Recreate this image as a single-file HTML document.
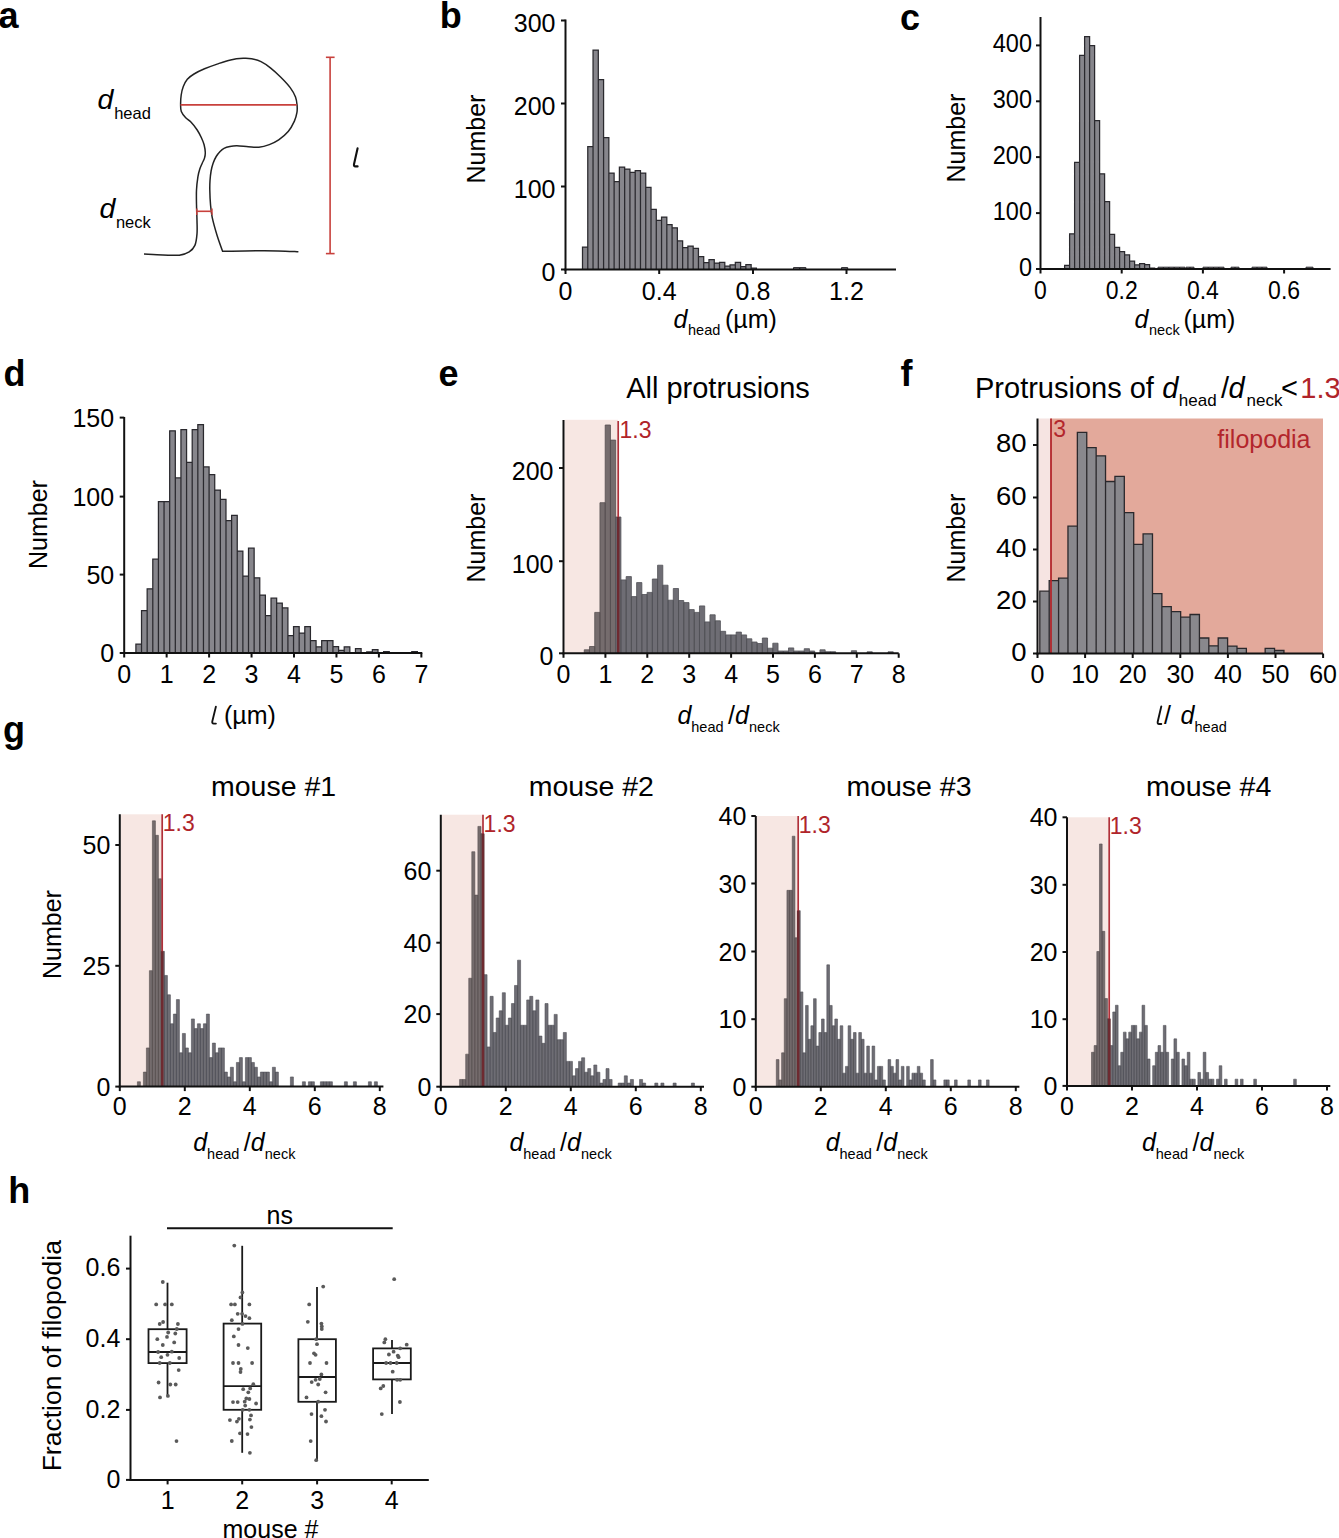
<!DOCTYPE html>
<html><head><meta charset="utf-8"><title>Figure</title>
<style>html,body{margin:0;padding:0;background:#fff;}body{width:1339px;height:1538px;overflow:hidden;}svg{display:block;}</style>
</head><body>
<svg width="1339" height="1538" viewBox="0 0 1339 1538" font-family='"Liberation Sans", sans-serif'>
<rect width="1339" height="1538" fill="#fff"/>
<text x="-1.5" y="28" font-size="36" font-weight="bold">a</text>
<text x="439.7" y="28" font-size="36" font-weight="bold">b</text>
<text x="900" y="29.6" font-size="36" font-weight="bold">c</text>
<text x="3.6" y="386" font-size="36" font-weight="bold">d</text>
<text x="438.6" y="386" font-size="36" font-weight="bold">e</text>
<text x="900.5" y="386" font-size="36" font-weight="bold">f</text>
<text x="3" y="741.5" font-size="36" font-weight="bold">g</text>
<text x="8.3" y="1203.3" font-size="36" font-weight="bold">h</text>
<path d="M144 254.1C147.15 254.23 157.02 254.72 162.9 254.9C168.78 255.08 174.92 255.7 179.3 255.2C183.68 254.7 186.6 253.53 189.2 251.9C191.8 250.27 193.6 248.4 194.9 245.4C196.2 242.4 196.65 238.02 197 233.9C197.35 229.78 197.08 225.63 197 220.7C196.92 215.77 196.58 209.42 196.5 204.3C196.42 199.18 196.27 194.58 196.5 190C196.73 185.42 197.35 180.3 197.9 176.8C198.45 173.3 199.08 171.27 199.8 169C200.52 166.73 201.42 165.02 202.2 163.2C202.98 161.38 203.98 159.87 204.5 158.1C205.02 156.33 205.37 154.82 205.3 152.6C205.23 150.38 204.75 147.27 204.1 144.8C203.45 142.33 202.55 140.27 201.4 137.8C200.25 135.33 198.95 132.62 197.2 130C195.45 127.38 192.85 124.18 190.9 122.1C188.95 120.02 187.1 119.27 185.5 117.5C183.9 115.73 182.12 113.68 181.3 111.5C180.48 109.32 180.62 107.15 180.6 104.4C180.58 101.65 180.75 97.97 181.2 95C181.65 92.03 182.28 89.22 183.3 86.6C184.32 83.98 185.52 81.4 187.3 79.3C189.08 77.2 191.13 75.75 194 74C196.87 72.25 200.65 70.45 204.5 68.8C208.35 67.15 212.75 65.58 217.1 64.1C221.45 62.62 226.25 60.87 230.6 59.9C234.95 58.93 239.7 58.5 243.2 58.3C246.7 58.1 248.63 58.15 251.6 58.7C254.57 59.25 257.87 60.08 261 61.6C264.13 63.12 267.1 65.2 270.4 67.8C273.7 70.4 277.5 73.9 280.8 77.2C284.1 80.5 287.75 84.3 290.2 87.6C292.65 90.9 294.35 94.03 295.5 97C296.65 99.97 296.87 102.78 297.1 105.4C297.33 108.02 297.35 110.08 296.9 112.7C296.45 115.32 295.85 117.95 294.4 121.1C292.95 124.25 290.82 128.47 288.2 131.6C285.58 134.73 281.85 137.73 278.7 139.9C275.55 142.07 272.6 143.38 269.3 144.6C266 145.82 262.38 146.85 258.9 147.2C255.42 147.55 252.07 146.95 248.4 146.7C244.73 146.45 239.98 145.75 236.9 145.7C233.82 145.65 232.05 145.97 229.9 146.4C227.75 146.83 225.63 147.45 224 148.3C222.37 149.15 221.4 150.13 220.1 151.5C218.8 152.87 217.37 154.55 216.2 156.5C215.03 158.45 213.95 160.78 213.1 163.2C212.25 165.62 211.62 168.08 211.1 171C210.58 173.92 210.22 177.53 210 180.7C209.78 183.87 209.72 186.07 209.8 190C209.88 193.93 210.1 199.73 210.5 204.3C210.9 208.87 211.1 212.2 212.2 217.4C213.3 222.6 215.37 229.85 217.1 235.5C218.83 241.15 221.68 248.67 222.6 251.3C226.33 251.23 235.78 250.97 245 250.9C254.22 250.83 269 250.75 277.9 250.9C286.8 251.05 294.98 251.65 298.4 251.8" fill="none" stroke="#222" stroke-width="1.5" stroke-linejoin="miter"/>
<line x1="180.5" y1="104.9" x2="296.8" y2="104.9" stroke="#c8403c" stroke-width="1.6"/>
<line x1="196.8" y1="211.3" x2="212" y2="211.3" stroke="#c8403c" stroke-width="1.6"/>
<line x1="196.8" y1="208.4" x2="196.8" y2="215" stroke="#c8403c" stroke-width="1.4"/>
<line x1="212" y1="208.4" x2="212" y2="215" stroke="#c8403c" stroke-width="1.4"/>
<line x1="330.1" y1="57.3" x2="330.1" y2="253.6" stroke="#c8403c" stroke-width="1.6"/>
<line x1="325.9" y1="57.3" x2="334.6" y2="57.3" stroke="#c8403c" stroke-width="1.6"/>
<line x1="325.9" y1="253.6" x2="334.6" y2="253.6" stroke="#c8403c" stroke-width="1.6"/>
<text x="97.5" y="109.1" font-size="28.5" font-style="italic">d</text>
<text x="114.2" y="118.7" font-size="16.5">head</text>
<text x="99.5" y="218.3" font-size="28.5" font-style="italic">d</text>
<text x="115.9" y="227.7" font-size="16.5">neck</text>
<path d="M357.6 148.2L354 164.2Q353.6 166.4 355.4 166.4L357.6 166.4" fill="none" stroke="#111" stroke-width="2.1" stroke-linecap="round" stroke-linejoin="round"/>
<path d="M582.5 269.5V247H587.77V269.5M587.77 269.5V146.6H593.04V269.5M593.04 269.5V50H598.31V269.5M598.31 269.5V79.7H603.58V269.5M603.58 269.5V137.6H608.85V269.5M608.85 269.5V173H614.12V269.5M614.12 269.5V181.7H619.39V269.5M619.39 269.5V167H624.66V269.5M624.66 269.5V169H629.93V269.5M629.93 269.5V172.4H635.2V269.5M635.2 269.5V170.6H640.47V269.5M640.47 269.5V173H645.74V269.5M645.74 269.5V187.3H651.01V269.5M651.01 269.5V209.3H656.28V269.5M656.28 269.5V220.3H661.55V269.5M661.55 269.5V217.1H666.82V269.5M666.82 269.5V224.6H672.09V269.5M672.09 269.5V227.8H677.36V269.5M677.36 269.5V240.9H682.63V269.5M682.63 269.5V247.5H687.9V269.5M687.9 269.5V246.1H693.17V269.5M693.17 269.5V248.4H698.44V269.5M698.44 269.5V256.6H703.71V269.5M703.71 269.5V262.7H708.98V269.5M708.98 269.5V259.7H714.25V269.5M714.25 269.5V263.1H719.52V269.5M719.52 269.5V262.4H724.79V269.5M724.79 269.5V266H730.06V269.5M730.06 269.5V264.9H735.33V269.5M735.33 269.5V262.4H740.6V269.5M740.6 269.5V266.7H745.87V269.5M745.87 269.5V264.5H751.14V269.5M751.14 269.5V268.1H756.41V269.5" fill="#87868c" stroke="#2a292e" stroke-width="1.25"/>
<path d="M793.5 269.5V267.6H799.7V269.5M799.7 269.5V267.6H805.9V269.5" fill="#87868c" stroke="#2a292e" stroke-width="1"/>
<path d="M841.5 269.5V267.6H847.7V269.5" fill="#87868c" stroke="#2a292e" stroke-width="1"/>
<line x1="565.5" y1="19.5" x2="565.5" y2="270.5" stroke="#111" stroke-width="2"/>
<line x1="561" y1="269.5" x2="565.5" y2="269.5" stroke="#111" stroke-width="2"/>
<text x="555.5" y="280.8" font-size="25" text-anchor="end">0</text>
<line x1="561" y1="186.5" x2="565.5" y2="186.5" stroke="#111" stroke-width="2"/>
<text x="555.5" y="197.8" font-size="25" text-anchor="end">100</text>
<line x1="561" y1="103.5" x2="565.5" y2="103.5" stroke="#111" stroke-width="2"/>
<text x="555.5" y="114.8" font-size="25" text-anchor="end">200</text>
<line x1="561" y1="20.5" x2="565.5" y2="20.5" stroke="#111" stroke-width="2"/>
<text x="555.5" y="31.8" font-size="25" text-anchor="end">300</text>
<line x1="564.5" y1="269.5" x2="896" y2="269.5" stroke="#111" stroke-width="2"/>
<line x1="565.5" y1="269.5" x2="565.5" y2="274" stroke="#111" stroke-width="2"/>
<text x="565.5" y="299.6" font-size="25" text-anchor="middle">0</text>
<line x1="659.2" y1="269.5" x2="659.2" y2="274" stroke="#111" stroke-width="2"/>
<text x="659.2" y="299.6" font-size="25" text-anchor="middle">0.4</text>
<line x1="753" y1="269.5" x2="753" y2="274" stroke="#111" stroke-width="2"/>
<text x="753" y="299.6" font-size="25" text-anchor="middle">0.8</text>
<line x1="846.5" y1="269.5" x2="846.5" y2="274" stroke="#111" stroke-width="2"/>
<text x="846.5" y="299.6" font-size="25" text-anchor="middle">1.2</text>
<text x="484.5" y="139" font-size="25" text-anchor="middle" transform="rotate(-90 484.5 139)">Number</text>
<text x="673.5" y="327.7" font-size="25" font-style="italic">d</text>
<text x="688" y="335.2" font-size="14.5">head</text>
<text x="725" y="327.7" font-size="25">(µm)</text>
<path d="M1064.6 269V265.4H1069.6V269M1069.6 269V233.8H1074.6V269M1074.6 269V162.4H1079.6V269M1079.6 269V55.3H1084.6V269M1084.6 269V36.7H1089.6V269M1089.6 269V45.6H1094.6V269M1094.6 269V120.6H1099.6V269M1099.6 269V173.8H1104.6V269M1104.6 269V201.7H1109.6V269M1109.6 269V234.4H1114.6V269M1114.6 269V247.4H1119.6V269M1119.6 269V251.7H1124.6V269M1124.6 269V254.9H1129.6V269M1129.6 269V261H1134.6V269M1134.6 269V264.9H1139.6V269M1139.6 269V263.7H1144.6V269M1144.6 269V264.6H1149.6V269M1149.6 269V268H1154.6V269" fill="#87868c" stroke="#2a292e" stroke-width="1.25"/>
<path d="M1158 269V267.2H1163.4V269M1163.4 269V267.2H1168.8V269M1168.8 269V267.2H1174.2V269M1174.2 269V267.2H1179.6V269M1179.6 269V267.2H1185V269" fill="#87868c" stroke="#2a292e" stroke-width="1"/>
<path d="M1186 269V267.2H1190V269M1190 269V267.2H1194V269" fill="#87868c" stroke="#2a292e" stroke-width="1"/>
<path d="M1203 269V267.2H1208.25V269M1208.25 269V267.2H1213.5V269M1213.5 269V267.2H1218.75V269M1218.75 269V267.2H1224V269" fill="#87868c" stroke="#2a292e" stroke-width="1"/>
<path d="M1231 269V267.2H1235V269M1235 269V267.2H1239V269" fill="#87868c" stroke="#2a292e" stroke-width="1"/>
<path d="M1252 269V267.2H1257V269M1257 269V267.2H1262V269M1262 269V267.2H1267V269" fill="#87868c" stroke="#2a292e" stroke-width="1"/>
<path d="M1306 269V267.2H1313V269" fill="#87868c" stroke="#2a292e" stroke-width="1"/>
<line x1="1040.5" y1="17" x2="1040.5" y2="270" stroke="#111" stroke-width="2"/>
<line x1="1036" y1="269" x2="1040.5" y2="269" stroke="#111" stroke-width="2"/>
<text transform="translate(1032 276) scale(0.94 1)" font-size="25" text-anchor="end">0</text>
<line x1="1036" y1="213.1" x2="1040.5" y2="213.1" stroke="#111" stroke-width="2"/>
<text transform="translate(1032 220.1) scale(0.94 1)" font-size="25" text-anchor="end">100</text>
<line x1="1036" y1="157.1" x2="1040.5" y2="157.1" stroke="#111" stroke-width="2"/>
<text transform="translate(1032 164.1) scale(0.94 1)" font-size="25" text-anchor="end">200</text>
<line x1="1036" y1="101.3" x2="1040.5" y2="101.3" stroke="#111" stroke-width="2"/>
<text transform="translate(1032 108.3) scale(0.94 1)" font-size="25" text-anchor="end">300</text>
<line x1="1036" y1="45.4" x2="1040.5" y2="45.4" stroke="#111" stroke-width="2"/>
<text transform="translate(1032 52.4) scale(0.94 1)" font-size="25" text-anchor="end">400</text>
<line x1="1039.5" y1="269" x2="1330.6" y2="269" stroke="#111" stroke-width="2"/>
<line x1="1040.5" y1="269" x2="1040.5" y2="273.5" stroke="#111" stroke-width="2"/>
<text transform="translate(1040.5 299.2) scale(0.92 1)" font-size="25" text-anchor="middle">0</text>
<line x1="1121.7" y1="269" x2="1121.7" y2="273.5" stroke="#111" stroke-width="2"/>
<text transform="translate(1121.7 299.2) scale(0.92 1)" font-size="25" text-anchor="middle">0.2</text>
<line x1="1202.9" y1="269" x2="1202.9" y2="273.5" stroke="#111" stroke-width="2"/>
<text transform="translate(1202.9 299.2) scale(0.92 1)" font-size="25" text-anchor="middle">0.4</text>
<line x1="1284.1" y1="269" x2="1284.1" y2="273.5" stroke="#111" stroke-width="2"/>
<text transform="translate(1284.1 299.2) scale(0.92 1)" font-size="25" text-anchor="middle">0.6</text>
<text x="965" y="138" font-size="25" text-anchor="middle" transform="rotate(-90 965 138)">Number</text>
<text x="1134.5" y="327.9" font-size="25" font-style="italic">d</text>
<text x="1149" y="335.4" font-size="14.5">neck</text>
<text x="1183.5" y="327.9" font-size="25">(µm)</text>
<path d="M135.9 653V644.1H141.53V653M141.53 653V610.7H147.16V653M147.16 653V588.8H152.79V653M152.79 653V559.2H158.42V653M158.42 653V501.5H164.05V653M164.05 653V501.5H169.68V653M169.68 653V430.8H175.31V653M175.31 653V477.9H180.94V653M180.94 653V429.5H186.57V653M186.57 653V462.3H192.2V653M192.2 653V429.5H197.83V653M197.83 653V424.6H203.46V653M203.46 653V466.9H209.09V653M209.09 653V474.7H214.72V653M214.72 653V490.1H220.35V653M220.35 653V499.4H225.98V653M225.98 653V520.5H231.61V653M231.61 653V515.3H237.24V653M237.24 653V551.1H242.87V653M242.87 653V576.1H248.5V653M248.5 653V548.2H254.13V653M254.13 653V577.8H259.76V653M259.76 653V595H265.39V653M265.39 653V615.6H271.02V653M271.02 653V598.2H276.65V653M276.65 653V603.1H282.28V653M282.28 653V607.9H287.91V653M287.91 653V635.7H293.54V653M293.54 653V626.5H299.17V653M299.17 653V633H304.8V653M304.8 653V626.5H310.43V653M310.43 653V640.5H316.06V653M316.06 653V646.8H321.69V653M321.69 653V640.7H327.32V653M327.32 653V640.7H332.95V653M332.95 653V646.7H338.58V653M338.58 653V650.3H344.21V653M344.21 653V646.8H349.84V653M355.47 653V648.5H361.1V653M366.73 653V651.9H372.36V653M372.36 653V649.7H377.99V653M383.62 653V651.6H389.25V653M411.77 653V651.6H417.4V653" fill="#87868c" stroke="#2a292e" stroke-width="1.25"/>
<line x1="124.2" y1="417" x2="124.2" y2="654" stroke="#111" stroke-width="2"/>
<line x1="119.7" y1="653" x2="124.2" y2="653" stroke="#111" stroke-width="2"/>
<text x="114.2" y="662.3" font-size="25" text-anchor="end">0</text>
<line x1="119.7" y1="574.6" x2="124.2" y2="574.6" stroke="#111" stroke-width="2"/>
<text x="114.2" y="583.9" font-size="25" text-anchor="end">50</text>
<line x1="119.7" y1="496.6" x2="124.2" y2="496.6" stroke="#111" stroke-width="2"/>
<text x="114.2" y="505.9" font-size="25" text-anchor="end">100</text>
<line x1="119.7" y1="417.6" x2="124.2" y2="417.6" stroke="#111" stroke-width="2"/>
<text x="114.2" y="426.9" font-size="25" text-anchor="end">150</text>
<line x1="123.2" y1="653" x2="422.3" y2="653" stroke="#111" stroke-width="2"/>
<line x1="124.2" y1="653" x2="124.2" y2="657.5" stroke="#111" stroke-width="2"/>
<text x="124.2" y="683.2" font-size="25" text-anchor="middle">0</text>
<line x1="166.65" y1="653" x2="166.65" y2="657.5" stroke="#111" stroke-width="2"/>
<text x="166.65" y="683.2" font-size="25" text-anchor="middle">1</text>
<line x1="209.1" y1="653" x2="209.1" y2="657.5" stroke="#111" stroke-width="2"/>
<text x="209.1" y="683.2" font-size="25" text-anchor="middle">2</text>
<line x1="251.55" y1="653" x2="251.55" y2="657.5" stroke="#111" stroke-width="2"/>
<text x="251.55" y="683.2" font-size="25" text-anchor="middle">3</text>
<line x1="294" y1="653" x2="294" y2="657.5" stroke="#111" stroke-width="2"/>
<text x="294" y="683.2" font-size="25" text-anchor="middle">4</text>
<line x1="336.45" y1="653" x2="336.45" y2="657.5" stroke="#111" stroke-width="2"/>
<text x="336.45" y="683.2" font-size="25" text-anchor="middle">5</text>
<line x1="378.9" y1="653" x2="378.9" y2="657.5" stroke="#111" stroke-width="2"/>
<text x="378.9" y="683.2" font-size="25" text-anchor="middle">6</text>
<line x1="421.35" y1="653" x2="421.35" y2="657.5" stroke="#111" stroke-width="2"/>
<text x="421.35" y="683.2" font-size="25" text-anchor="middle">7</text>
<text x="46.8" y="524.5" font-size="25" text-anchor="middle" transform="rotate(-90 46.8 524.5)">Number</text>
<path d="M215.9 706.6L212.3 721.4Q211.9 723.6 213.7 723.6L215.9 723.6" fill="none" stroke="#111" stroke-width="1.9" stroke-linecap="round" stroke-linejoin="round"/>
<text x="224" y="724.4" font-size="25">(µm)</text>
<rect x="564.5" y="419.8" width="53.5" height="233.5" fill="#f7e7e3"/>
<path d="M584.25 653.3V649.8H589.49V653.3M589.49 653.3V646.5H594.72V653.3M594.73 653.3V612.4H599.96V653.3M599.96 653.3V502.7H605.2V653.3M605.2 653.3V425H610.44V653.3M610.44 653.3V440.1H615.67V653.3" fill="#756c6d" stroke="#574f51" stroke-width="0.8"/>
<path d="M615.67 653.3V517H620.91V653.3M620.91 653.3V579.9H626.15V653.3M626.15 653.3V576.6H631.39V653.3M631.39 653.3V596.6H636.62V653.3M636.62 653.3V582.6H641.86V653.3M641.86 653.3V594.5H647.1V653.3M647.1 653.3V592.4H652.34V653.3M652.34 653.3V579H657.57V653.3M657.58 653.3V565.2H662.81V653.3M662.81 653.3V585.2H668.05V653.3M668.05 653.3V600.2H673.29V653.3M673.29 653.3V588.5H678.52V653.3M678.52 653.3V600.5H683.76V653.3M683.76 653.3V602.6H689V653.3M689 653.3V609.6H694.24V653.3M694.24 653.3V612.4H699.47V653.3M699.48 653.3V605.9H704.71V653.3M704.71 653.3V621.9H709.95V653.3M709.95 653.3V614.8H715.19V653.3M715.19 653.3V620.8H720.42V653.3M720.42 653.3V631.3H725.66V653.3M725.66 653.3V634.9H730.9V653.3M730.9 653.3V634.9H736.14V653.3M736.14 653.3V632.1H741.38V653.3M741.38 653.3V634.9H746.61V653.3M746.61 653.3V638.8H751.85V653.3M751.85 653.3V642H757.09V653.3M757.09 653.3V643.5H762.32V653.3M762.33 653.3V638H767.56V653.3M767.56 653.3V648.2H772.8V653.3M772.8 653.3V643.2H778.04V653.3M778.04 653.3V651H783.27V653.3M783.27 653.3V651H788.51V653.3M788.51 653.3V647.9H793.75V653.3M793.75 653.3V651H798.99V653.3M798.99 653.3V651H804.22V653.3M804.23 653.3V648.7H809.46V653.3M809.46 653.3V651H814.7V653.3M819.94 653.3V649.8H825.17V653.3M825.17 653.3V651.7H830.41V653.3M830.41 653.3V651.7H835.65V653.3M851.36 653.3V650.7H856.6V653.3M867.08 653.3V651.8H872.31V653.3M888.02 653.3V651.8H893.26V653.3" fill="#6e6d74" stroke="#515057" stroke-width="0.8"/>
<line x1="618.2" y1="421" x2="618.2" y2="653.3" stroke="#b0303a" stroke-width="1.7"/>
<rect x="616.9" y="517" width="2.6" height="136.3" fill="#6e2a30"/>
<text x="619.5" y="437.6" font-size="23" fill="#b0242a">1.3</text>
<line x1="563.5" y1="420" x2="563.5" y2="654.3" stroke="#111" stroke-width="2"/>
<line x1="559" y1="653.3" x2="563.5" y2="653.3" stroke="#111" stroke-width="2"/>
<text x="553.5" y="664.8" font-size="25" text-anchor="end">0</text>
<line x1="559" y1="561.2" x2="563.5" y2="561.2" stroke="#111" stroke-width="2"/>
<text x="553.5" y="572.7" font-size="25" text-anchor="end">100</text>
<line x1="559" y1="468" x2="563.5" y2="468" stroke="#111" stroke-width="2"/>
<text x="553.5" y="479.5" font-size="25" text-anchor="end">200</text>
<line x1="562.5" y1="653.3" x2="898.7" y2="653.3" stroke="#111" stroke-width="2"/>
<line x1="563.5" y1="653.3" x2="563.5" y2="657.8" stroke="#111" stroke-width="2"/>
<text x="563.5" y="683.2" font-size="25" text-anchor="middle">0</text>
<line x1="605.4" y1="653.3" x2="605.4" y2="657.8" stroke="#111" stroke-width="2"/>
<text x="605.4" y="683.2" font-size="25" text-anchor="middle">1</text>
<line x1="647.3" y1="653.3" x2="647.3" y2="657.8" stroke="#111" stroke-width="2"/>
<text x="647.3" y="683.2" font-size="25" text-anchor="middle">2</text>
<line x1="689.2" y1="653.3" x2="689.2" y2="657.8" stroke="#111" stroke-width="2"/>
<text x="689.2" y="683.2" font-size="25" text-anchor="middle">3</text>
<line x1="731.1" y1="653.3" x2="731.1" y2="657.8" stroke="#111" stroke-width="2"/>
<text x="731.1" y="683.2" font-size="25" text-anchor="middle">4</text>
<line x1="773" y1="653.3" x2="773" y2="657.8" stroke="#111" stroke-width="2"/>
<text x="773" y="683.2" font-size="25" text-anchor="middle">5</text>
<line x1="814.9" y1="653.3" x2="814.9" y2="657.8" stroke="#111" stroke-width="2"/>
<text x="814.9" y="683.2" font-size="25" text-anchor="middle">6</text>
<line x1="856.8" y1="653.3" x2="856.8" y2="657.8" stroke="#111" stroke-width="2"/>
<text x="856.8" y="683.2" font-size="25" text-anchor="middle">7</text>
<line x1="898.7" y1="653.3" x2="898.7" y2="657.8" stroke="#111" stroke-width="2"/>
<text x="898.7" y="683.2" font-size="25" text-anchor="middle">8</text>
<text x="485" y="538" font-size="25" text-anchor="middle" transform="rotate(-90 485 538)">Number</text>
<text x="718" y="397.8" font-size="29" text-anchor="middle">All protrusions</text>
<text x="677.5" y="723.7" font-size="25" font-style="italic">d</text>
<text x="691.3" y="731.7" font-size="14.5">head</text>
<text x="728" y="723.7" font-size="25">/</text>
<text x="735" y="723.7" font-size="25" font-style="italic">d</text>
<text x="749" y="731.7" font-size="14.5">neck</text>
<rect x="1038.5" y="418.5" width="12.5" height="235" fill="#f6e4e2"/>
<rect x="1051" y="418.5" width="272" height="235" fill="#e3a99b"/>
<path d="M1039.8 653.5V591.2H1049.19V653.5M1049.19 653.5V580.7H1058.58V653.5M1058.58 653.5V578.2H1067.97V653.5M1067.97 653.5V526.2H1077.36V653.5M1077.36 653.5V432.3H1086.75V653.5M1086.75 653.5V447.7H1096.14V653.5M1096.14 653.5V455.8H1105.53V653.5M1105.53 653.5V481.5H1114.92V653.5M1114.92 653.5V476.3H1124.31V653.5M1124.31 653.5V512.7H1133.7V653.5M1133.7 653.5V544.4H1143.09V653.5M1143.09 653.5V533.9H1152.48V653.5M1152.48 653.5V593.7H1161.87V653.5M1161.87 653.5V606.7H1171.26V653.5M1171.26 653.5V611.7H1180.65V653.5M1180.65 653.5V617.2H1190.04V653.5M1190.04 653.5V614.5H1199.43V653.5M1199.43 653.5V638H1208.82V653.5M1208.82 653.5V645.8H1218.21V653.5M1218.21 653.5V638H1227.6V653.5M1227.6 653.5V646.1H1236.99V653.5M1236.99 653.5V648.3H1246.38V653.5M1265.16 653.5V648.3H1274.55V653.5M1274.55 653.5V650.5H1283.94V653.5" fill="#89888d" stroke="#2a282c" stroke-width="1.3"/>
<line x1="1051" y1="418.5" x2="1051" y2="653.5" stroke="#b3262c" stroke-width="1.8"/>
<text x="1053.2" y="436.8" font-size="23" fill="#b3262c">3</text>
<text x="1310.5" y="447.6" font-size="25" text-anchor="end" fill="#b3262c">filopodia</text>
<line x1="1037.5" y1="418.5" x2="1037.5" y2="654.5" stroke="#111" stroke-width="2"/>
<line x1="1033" y1="653.5" x2="1037.5" y2="653.5" stroke="#111" stroke-width="2"/>
<text transform="translate(1026.5 660.8) scale(1.1 1)" font-size="25" text-anchor="end">0</text>
<line x1="1033" y1="601.5" x2="1037.5" y2="601.5" stroke="#111" stroke-width="2"/>
<text transform="translate(1026.5 608.8) scale(1.1 1)" font-size="25" text-anchor="end">20</text>
<line x1="1033" y1="549.5" x2="1037.5" y2="549.5" stroke="#111" stroke-width="2"/>
<text transform="translate(1026.5 556.8) scale(1.1 1)" font-size="25" text-anchor="end">40</text>
<line x1="1033" y1="497.5" x2="1037.5" y2="497.5" stroke="#111" stroke-width="2"/>
<text transform="translate(1026.5 504.8) scale(1.1 1)" font-size="25" text-anchor="end">60</text>
<line x1="1033" y1="445" x2="1037.5" y2="445" stroke="#111" stroke-width="2"/>
<text transform="translate(1026.5 452.3) scale(1.1 1)" font-size="25" text-anchor="end">80</text>
<line x1="1036.5" y1="653.5" x2="1323" y2="653.5" stroke="#111" stroke-width="2"/>
<line x1="1037.5" y1="653.5" x2="1037.5" y2="658" stroke="#111" stroke-width="2"/>
<text x="1037.5" y="682.6" font-size="25" text-anchor="middle">0</text>
<line x1="1085.1" y1="653.5" x2="1085.1" y2="658" stroke="#111" stroke-width="2"/>
<text x="1085.1" y="682.6" font-size="25" text-anchor="middle">10</text>
<line x1="1132.7" y1="653.5" x2="1132.7" y2="658" stroke="#111" stroke-width="2"/>
<text x="1132.7" y="682.6" font-size="25" text-anchor="middle">20</text>
<line x1="1180.3" y1="653.5" x2="1180.3" y2="658" stroke="#111" stroke-width="2"/>
<text x="1180.3" y="682.6" font-size="25" text-anchor="middle">30</text>
<line x1="1227.9" y1="653.5" x2="1227.9" y2="658" stroke="#111" stroke-width="2"/>
<text x="1227.9" y="682.6" font-size="25" text-anchor="middle">40</text>
<line x1="1275.5" y1="653.5" x2="1275.5" y2="658" stroke="#111" stroke-width="2"/>
<text x="1275.5" y="682.6" font-size="25" text-anchor="middle">50</text>
<line x1="1323.1" y1="653.5" x2="1323.1" y2="658" stroke="#111" stroke-width="2"/>
<text x="1323.1" y="682.6" font-size="25" text-anchor="middle">60</text>
<text x="965" y="538" font-size="25" text-anchor="middle" transform="rotate(-90 965 538)">Number</text>
<text x="975" y="397.5" font-size="29">Protrusions of</text>
<text x="1162.3" y="397.5" font-size="29" font-style="italic">d</text>
<text x="1178.8" y="406" font-size="17">head</text>
<text x="1221" y="397.5" font-size="29">/</text>
<text x="1228.5" y="397.5" font-size="29" font-style="italic">d</text>
<text x="1246.6" y="406" font-size="17">neck</text>
<text x="1281" y="397.5" font-size="29">&lt;</text>
<text x="1300.3" y="397.5" font-size="29" fill="#b0242a">1.3</text>
<path d="M1161.3 706.4L1157.7 721.8Q1157.3 724 1159.1 724L1161.3 724" fill="none" stroke="#111" stroke-width="1.9" stroke-linecap="round" stroke-linejoin="round"/>
<text x="1164" y="724" font-size="25">/</text>
<text x="1180.5" y="724" font-size="25" font-style="italic">d</text>
<text x="1194.5" y="732" font-size="14.5">head</text>
<rect x="120.8" y="814.3" width="41.4" height="272.3" fill="#f7e7e3"/>
<path d="M137.4 1086.6V1081.77H140.4V1086.6M143.4 1086.6V1072.1H146.4V1086.6M146.4 1086.6V1047.94H149.4V1086.6M149.4 1086.6V970.63H152.4V1086.6M152.4 1086.6V820.84H155.4V1086.6M155.4 1086.6V835.34H158.4V1086.6M158.4 1086.6V878.82H161.4V1086.6" fill="#756c6d" stroke="#574f51" stroke-width="0.6"/>
<path d="M161.4 1086.6V951.3H164.4V1086.6M164.4 1086.6V975.46H167.4V1086.6M167.4 1086.6V994.79H170.4V1086.6M170.4 1086.6V1023.78H173.4V1086.6M173.4 1086.6V1014.12H176.4V1086.6M176.4 1086.6V999.62H179.4V1086.6M179.4 1086.6V1052.78H182.4V1086.6M182.4 1086.6V1033.45H185.4V1086.6M185.4 1086.6V1047.94H188.4V1086.6M188.4 1086.6V1052.78H191.4V1086.6M191.4 1086.6V1018.95H194.4V1086.6M194.4 1086.6V1028.62H197.4V1086.6M197.4 1086.6V1023.78H200.4V1086.6M200.4 1086.6V1028.62H203.4V1086.6M203.4 1086.6V1023.78H206.4V1086.6M206.4 1086.6V1014.12H209.4V1086.6M209.4 1086.6V1057.61H212.4V1086.6M212.4 1086.6V1043.11H215.4V1086.6M215.4 1086.6V1052.78H218.4V1086.6M218.4 1086.6V1047.94H221.4V1086.6M221.4 1086.6V1047.94H224.4V1086.6M224.4 1086.6V1072.1H227.4V1086.6M227.4 1086.6V1076.94H230.4V1086.6M230.4 1086.6V1067.27H233.4V1086.6M233.4 1086.6V1081.77H236.4V1086.6M236.4 1086.6V1062.44H239.4V1086.6M239.4 1086.6V1057.61H242.4V1086.6M242.4 1086.6V1081.77H245.4V1086.6M245.4 1086.6V1057.61H248.4V1086.6M248.4 1086.6V1057.61H251.4V1086.6M251.4 1086.6V1062.44H254.4V1086.6M254.4 1086.6V1067.27H257.4V1086.6M257.4 1086.6V1076.94H260.4V1086.6M260.4 1086.6V1072.1H263.4V1086.6M263.4 1086.6V1072.1H266.4V1086.6M266.4 1086.6V1072.1H269.4V1086.6M269.4 1086.6V1081.77H272.4V1086.6M272.4 1086.6V1067.27H275.4V1086.6M275.4 1086.6V1072.1H278.4V1086.6M290.4 1086.6V1076.94H293.4V1086.6M302.4 1086.6V1081.77H305.4V1086.6M308.4 1086.6V1081.77H311.4V1086.6M311.4 1086.6V1081.77H314.4V1086.6M320.4 1086.6V1081.77H323.4V1086.6M323.4 1086.6V1081.77H326.4V1086.6M326.4 1086.6V1081.77H329.4V1086.6M329.4 1086.6V1081.77H332.4V1086.6M344.4 1086.6V1081.77H347.4V1086.6M353.4 1086.6V1081.77H356.4V1086.6M368.4 1086.6V1081.77H371.4V1086.6M374.4 1086.6V1081.77H377.4V1086.6" fill="#6e6d74" stroke="#515057" stroke-width="0.6"/>
<line x1="162.2" y1="814.3" x2="162.2" y2="1086.6" stroke="#b0303a" stroke-width="1.7"/>
<rect x="160.9" y="951.3" width="2.6" height="135.3" fill="#6e2a30"/>
<text x="162.8" y="831.3" font-size="23" fill="#b0242a">1.3</text>
<line x1="119.8" y1="814.3" x2="119.8" y2="1087.6" stroke="#111" stroke-width="2"/>
<line x1="115.3" y1="1086.6" x2="119.8" y2="1086.6" stroke="#111" stroke-width="2"/>
<text x="110.3" y="1095.6" font-size="25" text-anchor="end">0</text>
<line x1="115.3" y1="965.8" x2="119.8" y2="965.8" stroke="#111" stroke-width="2"/>
<text x="110.3" y="974.8" font-size="25" text-anchor="end">25</text>
<line x1="115.3" y1="845" x2="119.8" y2="845" stroke="#111" stroke-width="2"/>
<text x="110.3" y="854" font-size="25" text-anchor="end">50</text>
<line x1="118.8" y1="1086.6" x2="383.4" y2="1086.6" stroke="#111" stroke-width="2"/>
<line x1="119.8" y1="1086.6" x2="119.8" y2="1091.1" stroke="#111" stroke-width="2"/>
<text x="119.8" y="1114.8" font-size="25" text-anchor="middle">0</text>
<line x1="184.8" y1="1086.6" x2="184.8" y2="1091.1" stroke="#111" stroke-width="2"/>
<text x="184.8" y="1114.8" font-size="25" text-anchor="middle">2</text>
<line x1="249.8" y1="1086.6" x2="249.8" y2="1091.1" stroke="#111" stroke-width="2"/>
<text x="249.8" y="1114.8" font-size="25" text-anchor="middle">4</text>
<line x1="314.8" y1="1086.6" x2="314.8" y2="1091.1" stroke="#111" stroke-width="2"/>
<text x="314.8" y="1114.8" font-size="25" text-anchor="middle">6</text>
<line x1="379.8" y1="1086.6" x2="379.8" y2="1091.1" stroke="#111" stroke-width="2"/>
<text x="379.8" y="1114.8" font-size="25" text-anchor="middle">8</text>
<rect x="441.8" y="814.7" width="41.2" height="272" fill="#f7e7e3"/>
<path d="M459.6 1086.7V1079.47H462.65V1086.7M462.65 1086.7V1079.47H465.7V1086.7M465.7 1086.7V1054.16H468.75V1086.7M468.75 1086.7V978.25H471.8V1086.7M471.8 1086.7V851.73H474.85V1086.7M474.85 1086.7V895.11H477.9V1086.7M477.9 1086.7V826.42H480.95V1086.7M480.95 1086.7V833.65H484V1086.7" fill="#756c6d" stroke="#574f51" stroke-width="0.6"/>
<path d="M484 1086.7V974.63H487.05V1086.7M487.05 1086.7V1046.93H490.1V1086.7M490.1 1086.7V996.33H493.15V1086.7M493.15 1086.7V1032.48H496.2V1086.7M496.2 1086.7V1018.02H499.25V1086.7M499.25 1086.7V1010.79H502.3V1086.7M502.3 1086.7V992.71H505.35V1086.7M505.35 1086.7V1025.25H508.4V1086.7M508.4 1086.7V1018.02H511.45V1086.7M511.45 1086.7V1003.56H514.5V1086.7M514.5 1086.7V985.48H517.55V1086.7M517.55 1086.7V960.18H520.6V1086.7M520.6 1086.7V1025.25H523.65V1086.7M523.65 1086.7V1025.25H526.7V1086.7M526.7 1086.7V999.94H529.75V1086.7M529.75 1086.7V996.33H532.8V1086.7M532.8 1086.7V1010.79H535.85V1086.7M535.85 1086.7V999.94H538.9V1086.7M538.9 1086.7V1036.09H541.95V1086.7M541.95 1086.7V1043.32H545V1086.7M545 1086.7V1003.56H548.05V1086.7M548.05 1086.7V1025.25H551.1V1086.7M551.1 1086.7V1025.25H554.15V1086.7M554.15 1086.7V1014.4H557.2V1086.7M557.2 1086.7V1039.7H560.25V1086.7M560.25 1086.7V1039.7H563.3V1086.7M563.3 1086.7V1032.48H566.35V1086.7M566.35 1086.7V1061.39H569.4V1086.7M569.4 1086.7V1061.39H572.45V1086.7M572.45 1086.7V1075.86H575.5V1086.7M575.5 1086.7V1068.62H578.55V1086.7M578.55 1086.7V1061.39H581.6V1086.7M581.6 1086.7V1057.78H584.65V1086.7M584.65 1086.7V1072.24H587.7V1086.7M587.7 1086.7V1068.62H590.75V1086.7M590.75 1086.7V1075.86H593.8V1086.7M593.8 1086.7V1065.01H596.85V1086.7M596.85 1086.7V1072.24H599.9V1086.7M599.9 1086.7V1083.09H602.95V1086.7M602.95 1086.7V1079.47H606V1086.7M606 1086.7V1068.62H609.05V1086.7M609.05 1086.7V1079.47H612.1V1086.7M618.2 1086.7V1083.09H621.25V1086.7M621.25 1086.7V1083.09H624.3V1086.7M624.3 1086.7V1075.86H627.35V1086.7M627.35 1086.7V1083.09H630.4V1086.7M630.4 1086.7V1079.47H633.45V1086.7M639.55 1086.7V1079.47H642.6V1086.7M642.6 1086.7V1083.09H645.65V1086.7M654.8 1086.7V1083.09H657.85V1086.7M660.9 1086.7V1083.09H663.95V1086.7M673.1 1086.7V1083.09H676.15V1086.7M691.4 1086.7V1083.09H694.45V1086.7" fill="#6e6d74" stroke="#515057" stroke-width="0.6"/>
<line x1="483" y1="814.7" x2="483" y2="1086.7" stroke="#b0303a" stroke-width="1.7"/>
<rect x="481.7" y="833.65" width="2.6" height="253.05" fill="#6e2a30"/>
<text x="483.6" y="831.7" font-size="23" fill="#b0242a">1.3</text>
<line x1="440.8" y1="814.7" x2="440.8" y2="1087.7" stroke="#111" stroke-width="2"/>
<line x1="436.3" y1="1086.7" x2="440.8" y2="1086.7" stroke="#111" stroke-width="2"/>
<text x="431.3" y="1095.7" font-size="25" text-anchor="end">0</text>
<line x1="436.3" y1="1014.1" x2="440.8" y2="1014.1" stroke="#111" stroke-width="2"/>
<text x="431.3" y="1023.1" font-size="25" text-anchor="end">20</text>
<line x1="436.3" y1="942.7" x2="440.8" y2="942.7" stroke="#111" stroke-width="2"/>
<text x="431.3" y="951.7" font-size="25" text-anchor="end">40</text>
<line x1="436.3" y1="870.7" x2="440.8" y2="870.7" stroke="#111" stroke-width="2"/>
<text x="431.3" y="879.7" font-size="25" text-anchor="end">60</text>
<line x1="439.8" y1="1086.7" x2="704" y2="1086.7" stroke="#111" stroke-width="2"/>
<line x1="440.8" y1="1086.7" x2="440.8" y2="1091.2" stroke="#111" stroke-width="2"/>
<text x="440.8" y="1114.8" font-size="25" text-anchor="middle">0</text>
<line x1="505.8" y1="1086.7" x2="505.8" y2="1091.2" stroke="#111" stroke-width="2"/>
<text x="505.8" y="1114.8" font-size="25" text-anchor="middle">2</text>
<line x1="570.8" y1="1086.7" x2="570.8" y2="1091.2" stroke="#111" stroke-width="2"/>
<text x="570.8" y="1114.8" font-size="25" text-anchor="middle">4</text>
<line x1="635.8" y1="1086.7" x2="635.8" y2="1091.2" stroke="#111" stroke-width="2"/>
<text x="635.8" y="1114.8" font-size="25" text-anchor="middle">6</text>
<line x1="700.8" y1="1086.7" x2="700.8" y2="1091.2" stroke="#111" stroke-width="2"/>
<text x="700.8" y="1114.8" font-size="25" text-anchor="middle">8</text>
<rect x="756.8" y="816" width="41.4" height="270.7" fill="#f7e7e3"/>
<path d="M776.3 1086.7V1059.62H778.96V1086.7M778.96 1086.7V1079.93H781.62V1086.7M781.62 1086.7V1052.85H784.28V1086.7M784.28 1086.7V998.69H786.94V1086.7M786.94 1086.7V890.37H789.6V1086.7M789.6 1086.7V890.37H792.26V1086.7M792.26 1086.7V836.21H794.92V1086.7M794.92 1086.7V937.76H797.58V1086.7" fill="#756c6d" stroke="#574f51" stroke-width="0.6"/>
<path d="M797.58 1086.7V910.68H800.24V1086.7M800.24 1086.7V991.92H802.9V1086.7M802.9 1086.7V1052.85H805.56V1086.7M805.56 1086.7V1005.46H808.22V1086.7M808.22 1086.7V1039.31H810.88V1086.7M810.88 1086.7V1025.77H813.54V1086.7M813.54 1086.7V998.69H816.2V1086.7M816.2 1086.7V1046.08H818.86V1086.7M818.86 1086.7V1032.54H821.52V1086.7M821.52 1086.7V1019H824.18V1086.7M824.18 1086.7V1032.54H826.84V1086.7M826.84 1086.7V964.84H829.5V1086.7M829.5 1086.7V1005.46H832.16V1086.7M832.16 1086.7V1025.77H834.82V1086.7M834.82 1086.7V1019H837.48V1086.7M837.48 1086.7V1039.31H840.14V1086.7M840.14 1086.7V1025.77H842.8V1086.7M842.8 1086.7V1073.16H845.46V1086.7M845.46 1086.7V1066.39H848.12V1086.7M848.12 1086.7V1025.77H850.78V1086.7M850.78 1086.7V1039.31H853.44V1086.7M853.44 1086.7V1032.54H856.1V1086.7M856.1 1086.7V1073.16H858.76V1086.7M858.76 1086.7V1032.54H861.42V1086.7M861.42 1086.7V1039.31H864.08V1086.7M864.08 1086.7V1073.16H866.74V1086.7M866.74 1086.7V1046.08H869.4V1086.7M869.4 1086.7V1073.16H872.06V1086.7M872.06 1086.7V1046.08H874.72V1086.7M874.72 1086.7V1079.93H877.38V1086.7M877.38 1086.7V1066.39H880.04V1086.7M880.04 1086.7V1066.39H882.7V1086.7M882.7 1086.7V1079.93H885.36V1086.7M888.02 1086.7V1059.62H890.68V1086.7M890.68 1086.7V1066.39H893.34V1086.7M893.34 1086.7V1073.16H896V1086.7M896 1086.7V1059.62H898.66V1086.7M898.66 1086.7V1079.93H901.32V1086.7M901.32 1086.7V1066.39H903.98V1086.7M906.64 1086.7V1066.39H909.3V1086.7M909.3 1086.7V1079.93H911.96V1086.7M911.96 1086.7V1073.16H914.62V1086.7M914.62 1086.7V1073.16H917.28V1086.7M917.28 1086.7V1066.39H919.94V1086.7M919.94 1086.7V1073.16H922.6V1086.7M922.6 1086.7V1079.93H925.26V1086.7M930.58 1086.7V1059.62H933.24V1086.7M933.24 1086.7V1079.93H935.9V1086.7M943.88 1086.7V1079.93H946.54V1086.7M946.54 1086.7V1079.93H949.2V1086.7M954.52 1086.7V1079.93H957.18V1086.7M967.82 1086.7V1079.93H970.48V1086.7M978.46 1086.7V1079.93H981.12V1086.7M986.44 1086.7V1079.93H989.1V1086.7" fill="#6e6d74" stroke="#515057" stroke-width="0.6"/>
<line x1="798.2" y1="816" x2="798.2" y2="1086.7" stroke="#b0303a" stroke-width="1.7"/>
<rect x="796.9" y="910.68" width="2.6" height="176.02" fill="#6e2a30"/>
<text x="798.8" y="833" font-size="23" fill="#b0242a">1.3</text>
<line x1="755.8" y1="816" x2="755.8" y2="1087.7" stroke="#111" stroke-width="2"/>
<line x1="751.3" y1="1086.7" x2="755.8" y2="1086.7" stroke="#111" stroke-width="2"/>
<text x="746.3" y="1095.7" font-size="25" text-anchor="end">0</text>
<line x1="751.3" y1="1019.2" x2="755.8" y2="1019.2" stroke="#111" stroke-width="2"/>
<text x="746.3" y="1028.2" font-size="25" text-anchor="end">10</text>
<line x1="751.3" y1="951.5" x2="755.8" y2="951.5" stroke="#111" stroke-width="2"/>
<text x="746.3" y="960.5" font-size="25" text-anchor="end">20</text>
<line x1="751.3" y1="883.5" x2="755.8" y2="883.5" stroke="#111" stroke-width="2"/>
<text x="746.3" y="892.5" font-size="25" text-anchor="end">30</text>
<line x1="751.3" y1="816" x2="755.8" y2="816" stroke="#111" stroke-width="2"/>
<text x="746.3" y="825" font-size="25" text-anchor="end">40</text>
<line x1="754.8" y1="1086.7" x2="1019.4" y2="1086.7" stroke="#111" stroke-width="2"/>
<line x1="755.8" y1="1086.7" x2="755.8" y2="1091.2" stroke="#111" stroke-width="2"/>
<text x="755.8" y="1114.8" font-size="25" text-anchor="middle">0</text>
<line x1="820.8" y1="1086.7" x2="820.8" y2="1091.2" stroke="#111" stroke-width="2"/>
<text x="820.8" y="1114.8" font-size="25" text-anchor="middle">2</text>
<line x1="885.8" y1="1086.7" x2="885.8" y2="1091.2" stroke="#111" stroke-width="2"/>
<text x="885.8" y="1114.8" font-size="25" text-anchor="middle">4</text>
<line x1="950.8" y1="1086.7" x2="950.8" y2="1091.2" stroke="#111" stroke-width="2"/>
<text x="950.8" y="1114.8" font-size="25" text-anchor="middle">6</text>
<line x1="1015.8" y1="1086.7" x2="1015.8" y2="1091.2" stroke="#111" stroke-width="2"/>
<text x="1015.8" y="1114.8" font-size="25" text-anchor="middle">8</text>
<rect x="1068" y="817.3" width="41.2" height="268.6" fill="#f7e7e3"/>
<path d="M1091.5 1085.9V1052.3H1094.16V1085.9M1094.16 1085.9V1045.58H1096.82V1085.9M1096.82 1085.9V951.5H1099.48V1085.9M1099.48 1085.9V843.98H1102.14V1085.9M1102.14 1085.9V931.34H1104.8V1085.9M1104.8 1085.9V998.54H1107.46V1085.9M1107.46 1085.9V1018.7H1110.12V1085.9" fill="#756c6d" stroke="#574f51" stroke-width="0.6"/>
<path d="M1110.12 1085.9V1045.58H1112.78V1085.9M1112.78 1085.9V1011.98H1115.44V1085.9M1115.44 1085.9V1005.26H1118.1V1085.9M1118.1 1085.9V1065.74H1120.76V1085.9M1120.76 1085.9V1052.3H1123.42V1085.9M1123.42 1085.9V1032.14H1126.08V1085.9M1126.08 1085.9V1038.86H1128.74V1085.9M1128.74 1085.9V1032.14H1131.4V1085.9M1131.4 1085.9V1025.42H1134.06V1085.9M1134.06 1085.9V1025.42H1136.72V1085.9M1136.72 1085.9V1038.86H1139.38V1085.9M1139.38 1085.9V1032.14H1142.04V1085.9M1142.04 1085.9V1005.26H1144.7V1085.9M1144.7 1085.9V1025.42H1147.36V1085.9M1147.36 1085.9V1059.02H1150.02V1085.9M1152.68 1085.9V1065.74H1155.34V1085.9M1155.34 1085.9V1052.3H1158V1085.9M1158 1085.9V1045.58H1160.66V1085.9M1160.66 1085.9V1052.3H1163.32V1085.9M1163.32 1085.9V1025.42H1165.98V1085.9M1165.98 1085.9V1052.3H1168.64V1085.9M1171.3 1085.9V1059.02H1173.96V1085.9M1173.96 1085.9V1038.86H1176.62V1085.9M1176.62 1085.9V1052.3H1179.28V1085.9M1181.94 1085.9V1059.02H1184.6V1085.9M1184.6 1085.9V1065.74H1187.26V1085.9M1187.26 1085.9V1052.3H1189.92V1085.9M1189.92 1085.9V1079.18H1192.58V1085.9M1192.58 1085.9V1079.18H1195.24V1085.9M1197.9 1085.9V1072.46H1200.56V1085.9M1200.56 1085.9V1079.18H1203.22V1085.9M1203.22 1085.9V1052.3H1205.88V1085.9M1205.88 1085.9V1072.46H1208.54V1085.9M1208.54 1085.9V1079.18H1211.2V1085.9M1211.2 1085.9V1079.18H1213.86V1085.9M1216.52 1085.9V1079.18H1219.18V1085.9M1219.18 1085.9V1065.74H1221.84V1085.9M1224.5 1085.9V1079.18H1227.16V1085.9M1235.14 1085.9V1079.18H1237.8V1085.9M1240.46 1085.9V1079.18H1243.12V1085.9M1253.76 1085.9V1079.18H1256.42V1085.9M1293.66 1085.9V1079.18H1296.32V1085.9" fill="#6e6d74" stroke="#515057" stroke-width="0.6"/>
<line x1="1109.2" y1="817.3" x2="1109.2" y2="1085.9" stroke="#b0303a" stroke-width="1.7"/>
<rect x="1107.9" y="1018.7" width="2.6" height="67.2" fill="#6e2a30"/>
<text x="1109.8" y="834.3" font-size="23" fill="#b0242a">1.3</text>
<line x1="1067" y1="817.3" x2="1067" y2="1086.9" stroke="#111" stroke-width="2"/>
<line x1="1062.5" y1="1085.9" x2="1067" y2="1085.9" stroke="#111" stroke-width="2"/>
<text x="1057.5" y="1094.9" font-size="25" text-anchor="end">0</text>
<line x1="1062.5" y1="1019.2" x2="1067" y2="1019.2" stroke="#111" stroke-width="2"/>
<text x="1057.5" y="1028.2" font-size="25" text-anchor="end">10</text>
<line x1="1062.5" y1="952" x2="1067" y2="952" stroke="#111" stroke-width="2"/>
<text x="1057.5" y="961" font-size="25" text-anchor="end">20</text>
<line x1="1062.5" y1="884.8" x2="1067" y2="884.8" stroke="#111" stroke-width="2"/>
<text x="1057.5" y="893.8" font-size="25" text-anchor="end">30</text>
<line x1="1062.5" y1="817.3" x2="1067" y2="817.3" stroke="#111" stroke-width="2"/>
<text x="1057.5" y="826.3" font-size="25" text-anchor="end">40</text>
<line x1="1066" y1="1085.9" x2="1330.3" y2="1085.9" stroke="#111" stroke-width="2"/>
<line x1="1067" y1="1085.9" x2="1067" y2="1090.4" stroke="#111" stroke-width="2"/>
<text x="1067" y="1114.8" font-size="25" text-anchor="middle">0</text>
<line x1="1132" y1="1085.9" x2="1132" y2="1090.4" stroke="#111" stroke-width="2"/>
<text x="1132" y="1114.8" font-size="25" text-anchor="middle">2</text>
<line x1="1197" y1="1085.9" x2="1197" y2="1090.4" stroke="#111" stroke-width="2"/>
<text x="1197" y="1114.8" font-size="25" text-anchor="middle">4</text>
<line x1="1262" y1="1085.9" x2="1262" y2="1090.4" stroke="#111" stroke-width="2"/>
<text x="1262" y="1114.8" font-size="25" text-anchor="middle">6</text>
<line x1="1327" y1="1085.9" x2="1327" y2="1090.4" stroke="#111" stroke-width="2"/>
<text x="1327" y="1114.8" font-size="25" text-anchor="middle">8</text>
<text x="273.6" y="795.5" font-size="28.5" text-anchor="middle">mouse #1</text>
<text x="591.3" y="795.5" font-size="28.5" text-anchor="middle">mouse #2</text>
<text x="909" y="795.5" font-size="28.5" text-anchor="middle">mouse #3</text>
<text x="1208.7" y="795.5" font-size="28.5" text-anchor="middle">mouse #4</text>
<text x="61" y="934.5" font-size="25" text-anchor="middle" transform="rotate(-90 61 934.5)">Number</text>
<text x="193.3" y="1151.2" font-size="25" font-style="italic">d</text>
<text x="207.1" y="1159.2" font-size="14.5">head</text>
<text x="243.8" y="1151.2" font-size="25">/</text>
<text x="250.8" y="1151.2" font-size="25" font-style="italic">d</text>
<text x="264.8" y="1159.2" font-size="14.5">neck</text>
<text x="509.5" y="1151.2" font-size="25" font-style="italic">d</text>
<text x="523.3" y="1159.2" font-size="14.5">head</text>
<text x="560" y="1151.2" font-size="25">/</text>
<text x="567" y="1151.2" font-size="25" font-style="italic">d</text>
<text x="581" y="1159.2" font-size="14.5">neck</text>
<text x="825.7" y="1151.2" font-size="25" font-style="italic">d</text>
<text x="839.5" y="1159.2" font-size="14.5">head</text>
<text x="876.2" y="1151.2" font-size="25">/</text>
<text x="883.2" y="1151.2" font-size="25" font-style="italic">d</text>
<text x="897.2" y="1159.2" font-size="14.5">neck</text>
<text x="1142" y="1151.2" font-size="25" font-style="italic">d</text>
<text x="1155.8" y="1159.2" font-size="14.5">head</text>
<text x="1192.5" y="1151.2" font-size="25">/</text>
<text x="1199.5" y="1151.2" font-size="25" font-style="italic">d</text>
<text x="1213.5" y="1159.2" font-size="14.5">neck</text>
<line x1="167" y1="1228.2" x2="392.7" y2="1228.2" stroke="#111" stroke-width="2"/>
<text x="279.8" y="1224.2" font-size="25" text-anchor="middle">ns</text>
<line x1="130.5" y1="1235.7" x2="130.5" y2="1480.9" stroke="#111" stroke-width="2"/>
<line x1="126" y1="1479.9" x2="130.5" y2="1479.9" stroke="#111" stroke-width="2"/>
<text x="120.3" y="1487.7" font-size="25" text-anchor="end">0</text>
<line x1="126" y1="1409.9" x2="130.5" y2="1409.9" stroke="#111" stroke-width="2"/>
<text x="120.3" y="1417.7" font-size="25" text-anchor="end">0.2</text>
<line x1="126" y1="1339.2" x2="130.5" y2="1339.2" stroke="#111" stroke-width="2"/>
<text x="120.3" y="1347" font-size="25" text-anchor="end">0.4</text>
<line x1="126" y1="1268.6" x2="130.5" y2="1268.6" stroke="#111" stroke-width="2"/>
<text x="120.3" y="1276.4" font-size="25" text-anchor="end">0.6</text>
<line x1="129.5" y1="1479.9" x2="428.8" y2="1479.9" stroke="#111" stroke-width="2"/>
<line x1="167.6" y1="1479.9" x2="167.6" y2="1484.4" stroke="#111" stroke-width="2"/>
<text x="167.6" y="1508.5" font-size="25" text-anchor="middle">1</text>
<line x1="242.2" y1="1479.9" x2="242.2" y2="1484.4" stroke="#111" stroke-width="2"/>
<text x="242.2" y="1508.5" font-size="25" text-anchor="middle">2</text>
<line x1="317.1" y1="1479.9" x2="317.1" y2="1484.4" stroke="#111" stroke-width="2"/>
<text x="317.1" y="1508.5" font-size="25" text-anchor="middle">3</text>
<line x1="391.7" y1="1479.9" x2="391.7" y2="1484.4" stroke="#111" stroke-width="2"/>
<text x="391.7" y="1508.5" font-size="25" text-anchor="middle">4</text>
<text x="61.5" y="1355.7" font-size="26.5" text-anchor="middle" transform="rotate(-90 61.5 1355.7)">Fraction of filopodia</text>
<text x="270.5" y="1537.5" font-size="25" text-anchor="middle">mouse #</text>
<line x1="167.5" y1="1282.7" x2="167.5" y2="1329.2" stroke="#1a1a1a" stroke-width="1.8"/>
<line x1="167.5" y1="1363.1" x2="167.5" y2="1395.6" stroke="#1a1a1a" stroke-width="1.8"/>
<rect x="148.5" y="1329.2" width="38.1" height="33.9" fill="none" stroke="#1a1a1a" stroke-width="1.8"/>
<line x1="148.5" y1="1352" x2="186.6" y2="1352" stroke="#1a1a1a" stroke-width="1.8"/>
<line x1="242.2" y1="1245.8" x2="242.2" y2="1323.6" stroke="#1a1a1a" stroke-width="1.8"/>
<line x1="242.2" y1="1409.8" x2="242.2" y2="1452.8" stroke="#1a1a1a" stroke-width="1.8"/>
<rect x="223.6" y="1323.6" width="37.6" height="86.2" fill="none" stroke="#1a1a1a" stroke-width="1.8"/>
<line x1="223.6" y1="1386.1" x2="261.2" y2="1386.1" stroke="#1a1a1a" stroke-width="1.8"/>
<line x1="317" y1="1287" x2="317" y2="1339.2" stroke="#1a1a1a" stroke-width="1.8"/>
<line x1="317" y1="1401.8" x2="317" y2="1460.5" stroke="#1a1a1a" stroke-width="1.8"/>
<rect x="298.4" y="1339.2" width="37.5" height="62.6" fill="none" stroke="#1a1a1a" stroke-width="1.8"/>
<line x1="298.4" y1="1377" x2="335.9" y2="1377" stroke="#1a1a1a" stroke-width="1.8"/>
<line x1="392" y1="1340" x2="392" y2="1348.4" stroke="#1a1a1a" stroke-width="1.8"/>
<line x1="392" y1="1379.4" x2="392" y2="1414" stroke="#1a1a1a" stroke-width="1.8"/>
<rect x="373.1" y="1348.4" width="37.7" height="31" fill="none" stroke="#1a1a1a" stroke-width="1.8"/>
<line x1="373.1" y1="1363" x2="410.8" y2="1363" stroke="#1a1a1a" stroke-width="1.8"/>
<g fill="#5a5a5a">
<circle cx="162.8" cy="1282" r="1.9"/>
<circle cx="156.2" cy="1304.4" r="1.9"/>
<circle cx="165.1" cy="1304.4" r="1.9"/>
<circle cx="171.8" cy="1304.4" r="1.9"/>
<circle cx="159.7" cy="1324" r="1.9"/>
<circle cx="163.1" cy="1322" r="1.9"/>
<circle cx="177.9" cy="1324" r="1.9"/>
<circle cx="176.8" cy="1329" r="1.9"/>
<circle cx="168.2" cy="1332.5" r="1.9"/>
<circle cx="175.3" cy="1333.5" r="1.9"/>
<circle cx="167" cy="1336.9" r="1.9"/>
<circle cx="157.3" cy="1339.2" r="1.9"/>
<circle cx="162.8" cy="1345" r="1.9"/>
<circle cx="174.2" cy="1342.4" r="1.9"/>
<circle cx="158.1" cy="1352" r="1.9"/>
<circle cx="171.8" cy="1351.7" r="1.9"/>
<circle cx="167.5" cy="1354.8" r="1.9"/>
<circle cx="161.2" cy="1357.2" r="1.9"/>
<circle cx="179.2" cy="1358" r="1.9"/>
<circle cx="159.7" cy="1363" r="1.9"/>
<circle cx="169.8" cy="1363" r="1.9"/>
<circle cx="178.7" cy="1370.1" r="1.9"/>
<circle cx="158.6" cy="1382.5" r="1.9"/>
<circle cx="170.3" cy="1384.5" r="1.9"/>
<circle cx="175.7" cy="1384.5" r="1.9"/>
<circle cx="160" cy="1397.4" r="1.9"/>
<circle cx="167.9" cy="1395.9" r="1.9"/>
<circle cx="176.5" cy="1441.1" r="1.9"/>
<circle cx="234.3" cy="1245.6" r="1.9"/>
<circle cx="242.4" cy="1292.4" r="1.9"/>
<circle cx="240.5" cy="1297.4" r="1.9"/>
<circle cx="231.1" cy="1304.4" r="1.9"/>
<circle cx="234.9" cy="1304.4" r="1.9"/>
<circle cx="249.4" cy="1304.4" r="1.9"/>
<circle cx="237.7" cy="1313.8" r="1.9"/>
<circle cx="242.1" cy="1313.8" r="1.9"/>
<circle cx="245.5" cy="1316.1" r="1.9"/>
<circle cx="249.4" cy="1318.2" r="1.9"/>
<circle cx="231.8" cy="1320.2" r="1.9"/>
<circle cx="242.4" cy="1323.9" r="1.9"/>
<circle cx="238.5" cy="1329.1" r="1.9"/>
<circle cx="233.8" cy="1336.4" r="1.9"/>
<circle cx="238.5" cy="1345" r="1.9"/>
<circle cx="247.8" cy="1348.1" r="1.9"/>
<circle cx="233" cy="1363" r="1.9"/>
<circle cx="238.5" cy="1363" r="1.9"/>
<circle cx="252.1" cy="1363" r="1.9"/>
<circle cx="240.8" cy="1368.9" r="1.9"/>
<circle cx="240.5" cy="1372" r="1.9"/>
<circle cx="253.3" cy="1384.2" r="1.9"/>
<circle cx="243.2" cy="1389.2" r="1.9"/>
<circle cx="250.2" cy="1388.4" r="1.9"/>
<circle cx="248.3" cy="1392.3" r="1.9"/>
<circle cx="246.3" cy="1398.5" r="1.9"/>
<circle cx="249.4" cy="1399" r="1.9"/>
<circle cx="233" cy="1402.1" r="1.9"/>
<circle cx="237.7" cy="1402.1" r="1.9"/>
<circle cx="244.7" cy="1401.7" r="1.9"/>
<circle cx="256.1" cy="1403.5" r="1.9"/>
<circle cx="245.2" cy="1405.6" r="1.9"/>
<circle cx="242.7" cy="1409.8" r="1.9"/>
<circle cx="249.4" cy="1409.8" r="1.9"/>
<circle cx="251" cy="1415.4" r="1.9"/>
<circle cx="229.9" cy="1420.1" r="1.9"/>
<circle cx="236.9" cy="1421.6" r="1.9"/>
<circle cx="238.9" cy="1418.8" r="1.9"/>
<circle cx="249.9" cy="1419.6" r="1.9"/>
<circle cx="251.4" cy="1427.1" r="1.9"/>
<circle cx="240" cy="1433.3" r="1.9"/>
<circle cx="247.5" cy="1434.1" r="1.9"/>
<circle cx="231.8" cy="1441" r="1.9"/>
<circle cx="249.9" cy="1452.8" r="1.9"/>
<circle cx="323.2" cy="1286.6" r="1.9"/>
<circle cx="309.2" cy="1304.4" r="1.9"/>
<circle cx="307.8" cy="1321.8" r="1.9"/>
<circle cx="321.4" cy="1323.6" r="1.9"/>
<circle cx="321.8" cy="1326.4" r="1.9"/>
<circle cx="321.8" cy="1329.1" r="1.9"/>
<circle cx="316.2" cy="1339.2" r="1.9"/>
<circle cx="317" cy="1344.2" r="1.9"/>
<circle cx="314" cy="1353.3" r="1.9"/>
<circle cx="315.6" cy="1354.8" r="1.9"/>
<circle cx="310" cy="1363" r="1.9"/>
<circle cx="326.5" cy="1363" r="1.9"/>
<circle cx="321.4" cy="1374.4" r="1.9"/>
<circle cx="319.8" cy="1379" r="1.9"/>
<circle cx="315.6" cy="1379.8" r="1.9"/>
<circle cx="311.7" cy="1382.1" r="1.9"/>
<circle cx="318.2" cy="1384.5" r="1.9"/>
<circle cx="325.6" cy="1392.3" r="1.9"/>
<circle cx="306.5" cy="1397.4" r="1.9"/>
<circle cx="318.2" cy="1401.7" r="1.9"/>
<circle cx="311.5" cy="1414.1" r="1.9"/>
<circle cx="325" cy="1409.8" r="1.9"/>
<circle cx="321.4" cy="1416.2" r="1.9"/>
<circle cx="326" cy="1421.5" r="1.9"/>
<circle cx="310.7" cy="1441.1" r="1.9"/>
<circle cx="316.2" cy="1460.2" r="1.9"/>
<circle cx="394.2" cy="1279.2" r="1.9"/>
<circle cx="385.4" cy="1339.2" r="1.9"/>
<circle cx="384.3" cy="1342.4" r="1.9"/>
<circle cx="406.7" cy="1344.7" r="1.9"/>
<circle cx="400.2" cy="1348.3" r="1.9"/>
<circle cx="393.6" cy="1351.7" r="1.9"/>
<circle cx="388.9" cy="1354.5" r="1.9"/>
<circle cx="397.8" cy="1355.6" r="1.9"/>
<circle cx="398.6" cy="1357.2" r="1.9"/>
<circle cx="386.1" cy="1363" r="1.9"/>
<circle cx="390.5" cy="1363" r="1.9"/>
<circle cx="396.7" cy="1363" r="1.9"/>
<circle cx="392.7" cy="1371.7" r="1.9"/>
<circle cx="397.1" cy="1379.8" r="1.9"/>
<circle cx="400.2" cy="1379.8" r="1.9"/>
<circle cx="380.7" cy="1388.4" r="1.9"/>
<circle cx="383.3" cy="1386" r="1.9"/>
<circle cx="399.9" cy="1402" r="1.9"/>
<circle cx="381.8" cy="1414.1" r="1.9"/>
</g>
</svg>
</body></html>
